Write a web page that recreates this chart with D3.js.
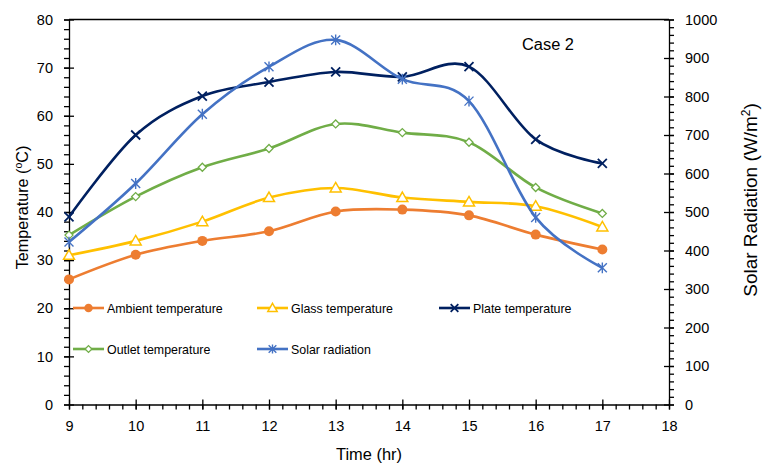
<!DOCTYPE html>
<html><head><meta charset="utf-8">
<script src="https://cdn.jsdelivr.net/npm/d3@7"></script>
<style>body{margin:0;background:#fff}svg{display:block}text{font-family:"Liberation Sans",Arial,sans-serif;fill:#000}</style>
</head><body><svg id="c" width="763" height="467"></svg>
<script>
const hours = [9,10,11,12,13,14,15,16,17];
const ambient = [26.0,31.1,34.0,36.0,40.1,40.5,39.3,35.3,32.2];
const glass   = [31.0,34.0,38.0,43.0,45.0,43.0,42.1,41.2,36.9];
const plate   = [39.0,56.0,64.1,67.0,69.1,68.1,70.2,55.1,50.1];
const outlet  = [35.2,43.2,49.3,53.2,58.3,56.5,54.5,45.1,39.7];
const solar   = [422,574,754,877,947,845,788,486,355];
const xTicks = [9,10,11,12,13,14,15,16,17,18];
const yTicks = [0,10,20,30,40,50,60,70,80];
const rTicks = [0,100,200,300,400,500,600,700,800,900,1000];

const svg = d3.select("#c");
const L=69, R=669, T=19.5, B=404.5;
const x = d3.scaleLinear().domain([9,18]).range([L,R]);
const y = d3.scaleLinear().domain([0,80]).range([B,T]);
const yr = d3.scaleLinear().domain([0,1000]).range([B,T]);

function fit(sel, w){ sel.style("font-size","20px"); const n=sel.node().getComputedTextLength(); sel.style("font-size",(20*w/n)+"px"); return sel; }

svg.append("line").attr("x1",L).attr("x2",R).attr("y1",T).attr("y2",T).attr("stroke","#000").attr("stroke-width",1.3);

function ticks(g){ g.selectAll("path,line").attr("stroke","#000").attr("stroke-width",1.3); g.selectAll("text").style("font-size","14.5px"); }
svg.append("g").attr("transform",`translate(${L},0)`).call(d3.axisLeft(y).tickValues(d3.range(0,81,2)).tickSize(5).tickFormat("")).call(ticks).select(".domain").remove();
svg.append("g").attr("transform",`translate(0,${B})`).call(d3.axisBottom(x).tickValues(d3.range(9,18.01,0.2)).tickSize(5).tickFormat("")).call(ticks).select(".domain").remove();
svg.append("g").attr("transform",`translate(${R},0)`).call(d3.axisRight(yr).tickValues(d3.range(0,1001,20)).tickSize(5).tickFormat("")).call(ticks).select(".domain").remove();
const ga = svg.append("g").attr("transform",`translate(${L},0)`).call(d3.axisLeft(y).tickValues(yTicks).tickSizeInner(5).tickSizeOuter(0).tickPadding(11).tickFormat(d3.format("d"))).call(ticks);
ga.selectAll(".tick line").attr("x2",5).attr("x1",-5);
const gb = svg.append("g").attr("transform",`translate(0,${B})`).call(d3.axisBottom(x).tickValues(xTicks).tickSizeInner(5).tickSizeOuter(0).tickPadding(11).tickFormat(d3.format("d"))).call(ticks);
gb.selectAll(".tick line").attr("y1",-5).attr("y2",5);
const gr = svg.append("g").attr("transform",`translate(${R},0)`).call(d3.axisRight(yr).tickValues(rTicks).tickSizeInner(5).tickSizeOuter(0).tickPadding(11).tickFormat(d3.format("d"))).call(ticks);
gr.selectAll(".tick line").attr("x1",-5).attr("x2",5);

const series = [
 {name:"Ambient temperature", data:ambient, color:"#ED7D31", m:"circle", scale:y},
 {name:"Glass temperature", data:glass, color:"#FFC000", m:"triangle", scale:y},
 {name:"Plate temperature", data:plate, color:"#002060", m:"x", scale:y},
 {name:"Outlet temperature", data:outlet, color:"#70AD47", m:"diamond", scale:y},
 {name:"Solar radiation", data:solar, color:"#4472C4", m:"star", scale:yr},
];
const line = d3.line().curve(d3.curveCardinal.tension(0));

function marker(g, type, cx, cy, color, s){
  s = s||1;
  if(type==="circle") g.append("circle").attr("cx",cx).attr("cy",cy).attr("r",5*s).attr("fill",color);
  else if(type==="triangle") g.append("path").attr("d",`M${cx},${cy-5.5*s}L${cx+5.5*s},${cy+4*s}L${cx-5.5*s},${cy+4*s}Z`).attr("fill","#fff").attr("stroke",color).attr("stroke-width",1.5);
  else if(type==="diamond") g.append("path").attr("d",`M${cx},${cy-4*s}L${cx+4*s},${cy}L${cx},${cy+4*s}L${cx-4*s},${cy}Z`).attr("fill","#fff").attr("stroke",color).attr("stroke-width",1.3);
  else if(type==="x"){ const d=4.5*s; g.append("path").attr("d",`M${cx-d},${cy-d}L${cx+d},${cy+d}M${cx+d},${cy-d}L${cx-d},${cy+d}`).attr("stroke",color).attr("stroke-width",1.8); }
  else if(type==="star"){ const d=4.5*s; g.append("path").attr("d",`M${cx-d},${cy-d}L${cx+d},${cy+d}M${cx+d},${cy-d}L${cx-d},${cy+d}M${cx},${cy-d*1.2}L${cx},${cy+d*1.2}`).attr("stroke",color).attr("stroke-width",1.4); }
}

series.forEach(s=>{
  const pts = hours.map((h,i)=>[x(h), s.scale(s.data[i])]);
  svg.append("path").attr("d",line(pts)).attr("fill","none").attr("stroke",s.color).attr("stroke-width",2.6);
  const g = svg.append("g");
  pts.forEach(p=>marker(g,s.m,p[0],p[1],s.color));
});

const leg = [[73,308],[257,308],[439,308],[73,349],[257,349]];
series.forEach((s,i)=>{
  const [lx,ly]=leg[i];
  svg.append("line").attr("x1",lx).attr("x2",lx+31).attr("y1",ly).attr("y2",ly).attr("stroke",s.color).attr("stroke-width",2.6);
  marker(svg,s.m,lx+15.5,ly,s.color,0.85);
  svg.append("text").attr("x",lx+34).attr("y",ly+5).style("font-size","12.4px").text(s.name);
});

fit(svg.append("text").attr("x",522).attr("y",50).text("Case 2"),52);
fit(svg.append("text").attr("x",369).attr("y",460).attr("text-anchor","middle").text("Time (hr)"),66);
const lt = svg.append("text").attr("transform","translate(28,207.5) rotate(-90)").attr("text-anchor","middle").style("font-size","16.2px");
lt.append("tspan").text("Temperature (");
lt.append("tspan").attr("dy",-6).style("font-size","10.5px").text("o");
lt.append("tspan").attr("dy",6).text("C)");
const rt = svg.append("text").attr("transform","translate(757,200) rotate(-90)").attr("text-anchor","middle").style("font-size","19px");
rt.append("tspan").text("Solar Radiation (W/m");
rt.append("tspan").attr("dy",-7).style("font-size","12px").text("2");
rt.append("tspan").attr("dy",7).text(")");
</script></body></html>
